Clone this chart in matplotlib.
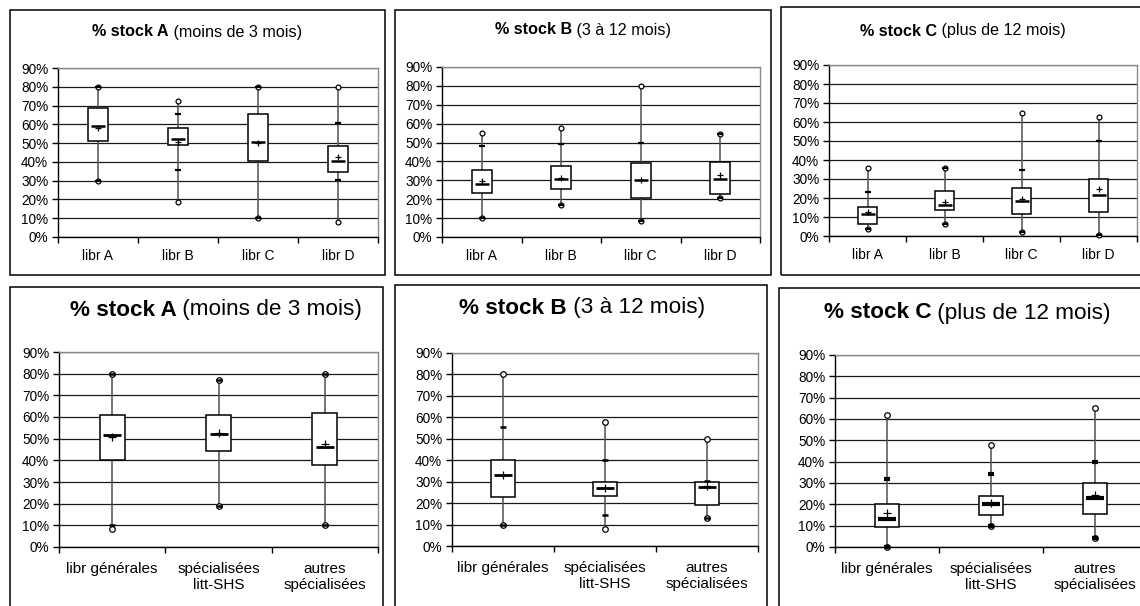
import matplotlib
matplotlib.use("Agg")
import matplotlib.pyplot as plt
from matplotlib.patches import Rectangle
from matplotlib.ticker import PercentFormatter
import numpy as np

plt.rcParams['font.family'] = ['Liberation Sans', 'DejaVu Sans']

W, H = 1140, 606

libr_labels = ["libr A", "libr B", "libr C", "libr D"]
type_labels = ["libr générales", "spécialisées\nlitt-SHS", "autres\nspécialisées"]

# Distribution summaries (in %): min, 10th pct, Q1, median, mean, Q3, 90th pct, max
stock_a_libr = {
    "min":    [30, 18.5, 10, 8],
    "p10":    [30, 35.5, 10, 30.5],
    "q1":     [51, 49, 40.5, 34.5],
    "median": [59, 52, 50.5, 40.5],
    "mean":   [58, 50.5, 50, 42.5],
    "q3":     [68.5, 58, 65.5, 48.5],
    "p90":    [80, 65.5, 80, 60.5],
    "max":    [80, 72.5, 80, 80],
}
stock_b_libr = {
    "min":    [10, 17, 8.5, 20.5],
    "p10":    [10, 17, 8.5, 20.5],
    "q1":     [23.5, 25.5, 20.5, 23],
    "median": [28, 30.5, 30, 30.5],
    "mean":   [29.5, 31.5, 30, 33],
    "q3":     [35.5, 37.5, 39, 39.5],
    "p90":    [48, 49, 50, 54.5],
    "max":    [55, 57.5, 80, 54.5],
}
stock_c_libr = {
    "min":    [3.5, 6.5, 2, 0.5],
    "p10":    [3.5, 6.5, 2, 0.5],
    "q1":     [6.5, 13.5, 11.5, 12.5],
    "median": [11.5, 16.5, 18.5, 21.5],
    "mean":   [12.5, 18, 19.5, 24.5],
    "q3":     [15.5, 23.5, 25.5, 30],
    "p90":    [23, 36, 34.5, 50],
    "max":    [36, 36, 65, 62.5],
}
stock_a_type = {
    "min":    [8.5, 19, 10],
    "p10":    [10, 19, 10],
    "q1":     [40, 44.5, 38],
    "median": [51.5, 52, 46],
    "mean":   [51, 52.5, 47.5],
    "q3":     [61, 61, 62],
    "p90":    [80, 77, 80],
    "max":    [80, 77, 80],
}
stock_b_type = {
    "min":    [10, 8, 13],
    "p10":    [10, 14.5, 13],
    "q1":     [23, 23.5, 19],
    "median": [33, 27, 27.5],
    "mean":   [33, 27, 28],
    "q3":     [40, 30, 30],
    "p90":    [55.5, 40, 30.5],
    "max":    [80, 58, 50],
}
stock_c_type = {
    "min":    [0, 10, 4],
    "p10":    [0, 10, 4],
    "q1":     [9.5, 15, 15.5],
    "median": [13, 20, 23],
    "mean":   [16, 20.5, 24.5],
    "q3":     [20, 24, 30],
    "p90":    [32, 34, 40],
    "max":    [62, 48, 65],
}

fig = plt.figure(figsize=(W / 100, H / 100), dpi=100)


def px_rect(left, right, top, bottom):
    return [left / W, 1 - bottom / H, (right - left) / W, (bottom - top) / H]


def frame(left, right, top, bottom):
    fig.patches.append(Rectangle((left / W, 1 - bottom / H), (right - left) / W,
                                 (bottom - top) / H, transform=fig.transFigure,
                                 fill=False, edgecolor='black', lw=1.1, zorder=0))


def title(cx, cy, bold, rest, size):
    t1 = fig.text(0, 1 - cy / H, bold, fontsize=size, fontweight='bold', va='center', ha='left')
    t2 = fig.text(0, 1 - cy / H, rest, fontsize=size, va='center', ha='left')
    r = fig.canvas.get_renderer()
    w1 = t1.get_window_extent(r).width
    w2 = t2.get_window_extent(r).width
    x0 = cx - (w1 + w2) / 2
    t1.set_x(x0 / W)
    t2.set_x((x0 + w1) / W)


def panel(rect, labels, s, box_w, med_ms, med_mew, mark_ms, dash_mew, circ_ms,
          xl_size, xl_pad):
    ax = fig.add_axes(rect)
    n = len(labels)
    x = np.arange(n)
    g = {k: np.array(v) / 100 for k, v in s.items()}
    ax.set_xlim(-0.5, n - 0.5)
    ax.set_ylim(0, 0.9)
    ax.set_yticks(np.arange(0, 0.91, 0.1))
    ax.yaxis.set_major_formatter(PercentFormatter(xmax=1, decimals=0))
    ax.yaxis.grid(True, color='#1a1a1a', lw=0.9)
    ax.set_axisbelow(True)

    ax.vlines(x, g["min"], g["max"], color='#505050', lw=1.1, zorder=2)
    ax.bar(x, g["q3"] - g["q1"], bottom=g["q1"], width=box_w, facecolor='white',
           edgecolor='black', lw=1.1, zorder=3)
    for key in ("min", "max"):
        ax.plot(x, g[key], 'o', ms=circ_ms, mfc='white', mec='black', mew=0.9,
                zorder=4, clip_on=False)
    for key in ("p10", "p90"):
        ax.plot(x, g[key], '_', ms=5, mew=dash_mew, color='black', zorder=5,
                clip_on=False)
    ax.plot(x, g["median"], '_', ms=med_ms, mew=med_mew, color='black', zorder=6)
    ax.plot(x, g["mean"], '+', ms=mark_ms, mew=0.9, color='black', zorder=7)

    for side in ("left", "bottom"):
        ax.spines[side].set_color('black')
        ax.spines[side].set_linewidth(1.0)
    for side in ("top", "right"):
        ax.spines[side].set_color('#8a8a8a')
        ax.spines[side].set_linewidth(1.0)

    ax.set_xticks(np.arange(-0.5, n, 1.0))
    ax.set_xticklabels([])
    ax.set_xticks(x, minor=True)
    ax.set_xticklabels(labels, minor=True, fontsize=xl_size)
    ax.tick_params(axis='x', which='major', length=4, width=1, direction='out')
    ax.tick_params(axis='x', which='minor', length=0, pad=xl_pad)
    ax.tick_params(axis='y', length=4, width=1, direction='out', pad=3, labelsize=9.8)
    return ax


# outer frames
frame(10, 385, 10, 275)
frame(395, 771, 10, 275)
frame(781, 1150, 7, 275)
frame(10, 383, 287, 612)
frame(395, 767, 285, 612)
frame(779, 1150, 288, 612)

top_kw = dict(box_w=0.25, med_ms=10, med_mew=1.8, mark_ms=5, dash_mew=1.6,
              circ_ms=3.5, xl_size=10, xl_pad=8.5)
bot_kw = dict(box_w=0.235, med_ms=13, med_mew=2.0, mark_ms=6, dash_mew=1.8,
              circ_ms=4, xl_size=11, xl_pad=11)

panel(px_rect(58, 378, 68, 237), libr_labels, stock_a_libr, **top_kw)
panel(px_rect(442, 760, 67, 237), libr_labels, stock_b_libr, **top_kw)
panel(px_rect(829, 1137, 65, 236), libr_labels, stock_c_libr, **top_kw)
panel(px_rect(59, 378, 352, 547), type_labels, stock_a_type, **bot_kw)
panel(px_rect(452, 758, 353, 546), type_labels, stock_b_type, **bot_kw)
c6 = dict(bot_kw, med_mew=3.0, dash_mew=3.0)
panel(px_rect(835, 1147, 355, 547), type_labels, stock_c_type, **c6)

title(197, 32, "% stock A", " (moins de 3 mois)", 11.6)
title(583, 30, "% stock B", " (3 à 12 mois)", 11.6)
title(963, 31, "% stock C", " (plus de 12 mois)", 11.6)
title(216, 310, "% stock A", " (moins de 3 mois)", 16.2)
title(582, 308, "% stock B", " (3 à 12 mois)", 16.2)
title(967, 313, "% stock C", " (plus de 12 mois)", 16.2)

fig.savefig("out.png", dpi=100)
